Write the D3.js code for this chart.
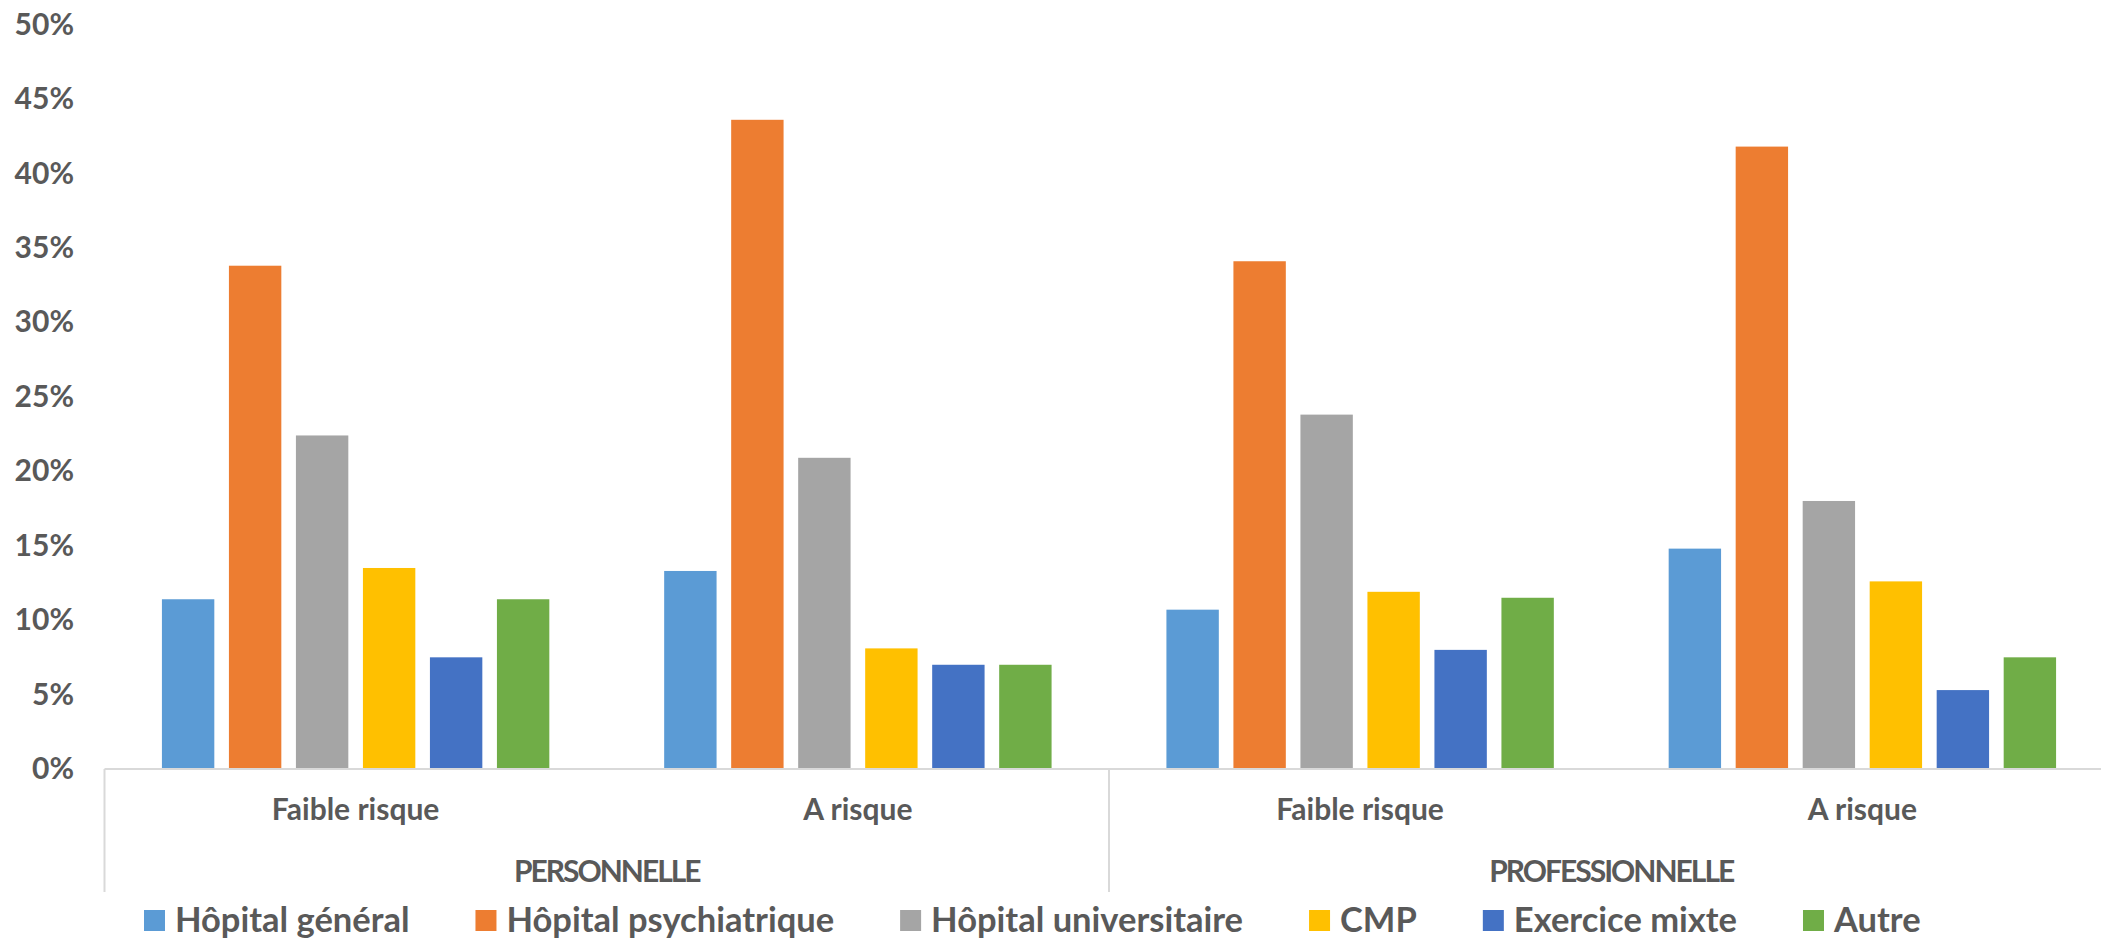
<!DOCTYPE html>
<html lang="fr">
<head>
<meta charset="utf-8">
<script src="https://cdn.jsdelivr.net/npm/d3@7"></script>
<style>
  html, body { margin: 0; padding: 0; background: #ffffff; }
  svg { display: block; }
  text { font-family: Lato, "Open Sans", sans-serif; font-weight: 700; fill: #595959; }
</style>
</head>
<body>
<svg id="chart" width="2101" height="939"></svg>
<script>
// Type de suicidalité (groupe) et niveau de risque (catégorie)
const groups = ["PERSONNELLE", "PROFESSIONNELLE"];
const riskLevels = ["Faible risque", "A risque"];

// Lieu d'exercice (séries)
const seriesNames = ["Hôpital général", "Hôpital psychiatrique", "Hôpital universitaire", "CMP", "Exercice mixte", "Autre"];
const seriesColors = ["#5B9BD5", "#ED7D31", "#A5A5A5", "#FFC000", "#4472C4", "#70AD47"];

// Pourcentages par catégorie : Perso/Faible, Perso/A risque, Pro/Faible, Pro/A risque
const hopitalGeneral       = [0.114, 0.133, 0.107, 0.148];
const hopitalPsychiatrique = [0.338, 0.436, 0.341, 0.418];
const hopitalUniversitaire = [0.224, 0.209, 0.238, 0.180];
const cmp                  = [0.135, 0.081, 0.119, 0.126];
const exerciceMixte        = [0.075, 0.070, 0.080, 0.053];
const autre                = [0.114, 0.070, 0.115, 0.075];

const yTicks = [0, 0.05, 0.10, 0.15, 0.20, 0.25, 0.30, 0.35, 0.40, 0.45, 0.50];

const seriesValues = [hopitalGeneral, hopitalPsychiatrique, hopitalUniversitaire, cmp, exerciceMixte, autre];

// one key per bottom-level category
const catKeys = [];
groups.forEach(g => riskLevels.forEach(r => catKeys.push({ key: g + "|" + r, group: g, risk: r })));

const svg = d3.select("#chart");

const plot = { left: 104.5, right: 2113.5, top: 24.5, bottom: 769 };

const x0 = d3.scaleBand()
  .domain(catKeys.map(d => d.key))
  .range([plot.left, plot.right])
  .padding(0);

const x1 = d3.scaleBand()
  .domain(seriesNames)
  .range([0, x0.bandwidth()])
  .paddingInner(0.218)
  .paddingOuter(0.857);

const y = d3.scaleLinear().domain([0, 0.5]).range([plot.bottom, plot.top]);

// y axis: labels only
const yAxis = d3.axisLeft(y)
  .tickValues(yTicks)
  .tickFormat(d3.format(".0%"))
  .tickSize(0)
  .tickPadding(30.5);

const yG = svg.append("g")
  .attr("transform", `translate(${plot.left},0)`)
  .call(yAxis);
yG.select(".domain").remove();
yG.selectAll("text")
  .attr("fill", "#595959")
  .style("font-size", "30px")
  .style("font-family", "Lato, sans-serif")
  .style("font-weight", "700");

// bars
const catG = svg.append("g").selectAll("g")
  .data(catKeys)
  .join("g")
  .attr("transform", d => `translate(${x0(d.key)},0)`);

catG.selectAll("rect")
  .data((d, ci) => seriesNames.map((s, si) => ({ series: s, value: seriesValues[si][ci], color: seriesColors[si] })))
  .join("rect")
  .attr("x", d => x1(d.series))
  .attr("width", x1.bandwidth())
  .attr("y", d => y(d.value))
  .attr("height", d => y(0) - y(d.value))
  .attr("fill", d => d.color);

// category axis baseline
svg.append("line")
  .attr("x1", plot.left).attr("x2", plot.right)
  .attr("y1", y(0)).attr("y2", y(0))
  .attr("stroke", "#D9D9D9").attr("stroke-width", 2);

// multi-level separators
const sepBottom = 892;
const groupEdges = [plot.left];
groups.forEach(g => {
  const keys = catKeys.filter(d => d.group === g);
  groupEdges.push(x0(keys[keys.length - 1].key) + x0.bandwidth());
});
svg.append("g").selectAll("line")
  .data(groupEdges)
  .join("line")
  .attr("x1", d => d).attr("x2", d => d)
  .attr("y1", y(0)).attr("y2", sepBottom)
  .attr("stroke", "#D9D9D9").attr("stroke-width", 2);

// inner category labels
svg.append("g").selectAll("text")
  .data(catKeys)
  .join("text")
  .attr("x", d => x0(d.key) + x0.bandwidth() / 2)
  .attr("y", 820)
  .attr("text-anchor", "middle")
  .style("font-size", "30px")
  .text(d => d.risk);

// group labels
svg.append("g").selectAll("text")
  .data(groups)
  .join("text")
  .attr("x", g => {
    const keys = catKeys.filter(d => d.group === g);
    return (x0(keys[0].key) + x0(keys[keys.length - 1].key) + x0.bandwidth()) / 2;
  })
  .attr("y", 882)
  .attr("text-anchor", "middle")
  .style("font-size", "30px")
  .style("letter-spacing", "-2px")
  .text(g => g);

// legend
const legend = svg.append("g").attr("transform", "translate(144,0)");
let lx = 0;
seriesNames.forEach((name, i) => {
  const item = legend.append("g").attr("transform", `translate(${lx},0)`);
  item.append("rect")
    .attr("x", 0).attr("y", 910)
    .attr("width", 21).attr("height", 21)
    .attr("fill", seriesColors[i]);
  const t = item.append("text")
    .attr("x", 31).attr("y", 931.5)
    .style("font-size", "34.5px")
    .text(name);
  lx += 31 + t.node().getComputedTextLength() + 66;
});
</script>
</body>
</html>
